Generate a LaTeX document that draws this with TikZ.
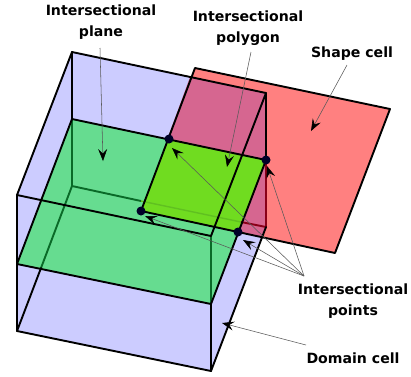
\documentclass[tikz,border=0pt]{standalone}
\usepackage{fontspec}
\setmainfont{DejaVu Sans}
\usetikzlibrary{arrows.meta}
\definecolor{domainfill}{HTML}{CCCCFF}
\definecolor{shapefill}{HTML}{FF8080}
\definecolor{overlapfill}{HTML}{D66690}
\definecolor{planefill}{HTML}{66DC90}
\definecolor{polyfill}{HTML}{70DC20}
\definecolor{dotcol}{HTML}{000028}
\definecolor{hidgreen}{HTML}{0A6A28}
\definecolor{hidred}{HTML}{8A0018}
\definecolor{faintgreen}{HTML}{60C020}
\tikzset{
  edge/.style={draw=black,line width=1.9pt,line join=round,line cap=round},
  hidg/.style={draw=hidgreen,line width=1.9pt},
  hidr/.style={draw=hidred,line width=1.9pt},
  label/.style={font=\fontsize{14.1}{21}\selectfont\bfseries,align=center,inner sep=0pt},
  pointer/.style={draw=black!65,line width=0.55pt,-{Stealth[black,length=12pt,width=9pt,inset=4.5pt]}},
  dot/.style={circle,fill=dotcol,inner sep=0pt,minimum size=9pt}
}
\begin{document}
\begin{tikzpicture}[x=1pt,y=-1pt]
\useasboundingbox (0,0) rectangle (411,376);
% fills
\fill[domainfill] (72,52)--(266,93)--(266,227)--(211,371)--(17,331)--(17,195)--cycle;
\fill[shapefill] (195,68)--(390,109)--(335,253)--(141,211)--cycle;
\fill[overlapfill] (190,77)--(266,93)--(266,227)--(262,237)--(141,211)--cycle;
\fill[planefill] (72,119)--(266,160)--(211,304)--(17,264)--cycle;
\fill[polyfill] (169,139)--(266,160)--(238,232)--(141,211)--cycle;
% hidden edges
\draw[hidg] (72,119)--(72,186)--(141,201);
\draw[faintgreen,line width=1.4pt] (141,201)--(241,222);
\draw[hidr] (241,222)--(266,227)--(266,160);
\draw[hidg] (72,186)--(41,268);
\draw[hidg] (211,236)--(211,304);
% edges
\draw[edge] (72,52)--(266,93)--(266,160);
\draw[edge] (72,52)--(17,195)--(17,331)--(211,371)--(211,304);
\draw[edge] (72,52)--(72,119);
\draw[edge] (41,268)--(17,331);
\draw[edge] (17,195)--(211,236)--(266,93);
\draw[edge] (266,227)--(211,371);
\draw[edge] (72,119)--(266,160)--(211,304)--(17,264)--cycle;
\draw[edge] (195,68)--(390,109)--(335,253)--(141,211)--cycle;
% points
\node[dot] (p1) at (169,139) {};
\node[dot] (p2) at (266,160) {};
\node[dot] (p3) at (141,211) {};
\node[dot] (p4) at (238,232) {};
% labels
\node[label] (lplane) at (101,22.5) {Intersectional\\plane};
\node[label] (lpoly) at (248,28) {Intersectional\\polygon};
\node[label] (lshape) at (352,54) {Shape cell};
\node[label] (lpoints) at (353,301.5) {Intersectional\\points};
\node[label] (ldomain) at (353,358) {Domain cell};
% pointer ends
\coordinate (s1) at (100,48);
\coordinate (t1) at (103,161);
\coordinate (s2) at (251,52);
\coordinate (t2) at (227,167);
\coordinate (s3) at (347,65);
\coordinate (t3) at (311,131);
\coordinate (s4) at (304,276);
\coordinate (t4a) at (172,148);
\coordinate (t4b) at (267,166);
\coordinate (t4c) at (145,216);
\coordinate (t4d) at (243,240);
\coordinate (s5) at (306,345);
\coordinate (t5) at (222,323);
\draw[pointer] (s1)--(t1);
\draw[pointer] (s2)--(t2);
\draw[pointer] (s3)--(t3);
\draw[pointer] (s4)--(t4a);
\draw[pointer] (s4)--(t4b);
\draw[pointer] (s4)--(t4c);
\draw[pointer] (s4)--(t4d);
\draw[pointer] (s5)--(t5);
\end{tikzpicture}
\end{document}
